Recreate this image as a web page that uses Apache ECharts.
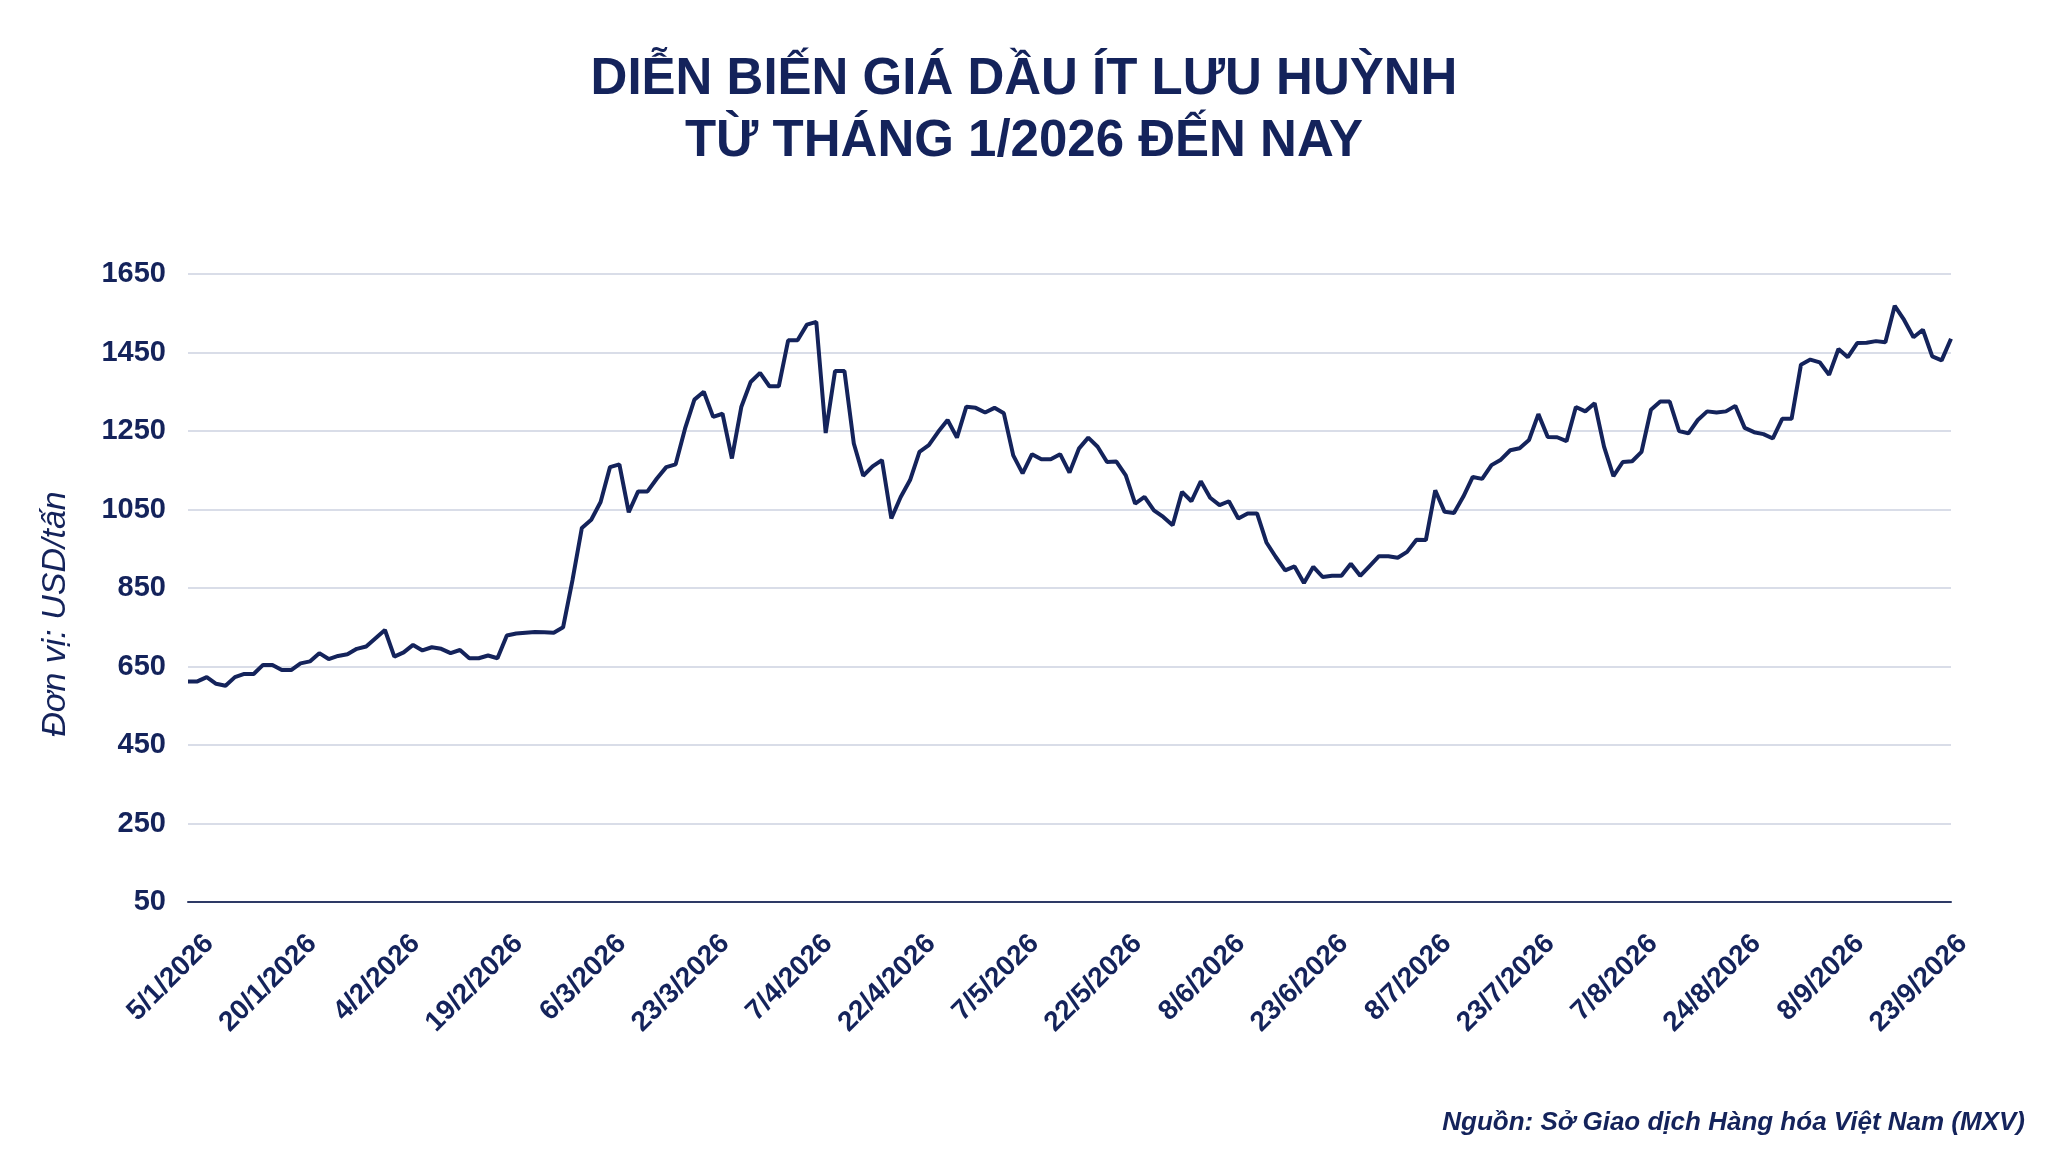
<!DOCTYPE html>
<html>
<head>
<meta charset="utf-8">
<title>Diễn biến giá dầu ít lưu huỳnh</title>
<script src="https://cdn.jsdelivr.net/npm/echarts@6/dist/echarts.min.js"></script>
<style>
  html, body { margin: 0; padding: 0; background: #fff; }
  #main { width: 2048px; height: 1153px; }
</style>
</head>
<body>
<div id="main"></div>
<script>
// ngày giao dịch (thứ 2 - thứ 6) từ 5/1/2026 đến 24/9/2026
var startDay = [2026, 0, 5];
var endDay = [2026, 8, 24];
var dates = [];
var d = new Date(startDay[0], startDay[1], startDay[2]);
var last = new Date(endDay[0], endDay[1], endDay[2]);
while (d <= last) {
  var wd = d.getDay();
  if (wd != 0 && wd != 6) {
    dates.push(d.getDate() + '/' + (d.getMonth() + 1) + '/' + d.getFullYear());
  }
  d.setDate(d.getDate() + 1);
}

// giá dầu ít lưu huỳnh, USD/tấn
var priceJanFeb = [
  612, 612, 623, 606, 601, 623, 631, 631, 654, 654,
  641, 641, 658, 663, 684, 669, 677, 681, 695, 701,
  722, 743, 675, 686, 705, 691, 699, 695, 684, 692,
  671, 671, 678, 671, 729, 734, 736, 738, 737, 736
];
var priceMarApr = [
  750, 870, 1003, 1024, 1069, 1158, 1165, 1043, 1096, 1096,
  1129, 1158, 1165, 1256, 1330, 1350, 1286, 1294, 1180, 1311,
  1375, 1398, 1364, 1364, 1481, 1481, 1521, 1528, 1245, 1403,
  1403, 1218, 1136, 1160, 1176, 1027, 1082, 1125, 1197, 1214,
  1248, 1278, 1233, 1312, 1309
];
var priceMayJun = [
  1297, 1309, 1295, 1188, 1142, 1191, 1178, 1178, 1191, 1144,
  1205, 1233, 1210, 1171, 1172, 1137, 1065, 1082, 1048, 1031,
  1010, 1095, 1071, 1122, 1080, 1061, 1071, 1027, 1040, 1040,
  966, 929, 895, 905, 863, 904, 878, 881, 881, 912,
  881, 906, 931, 931, 927
];
var priceJulSep = [
  942, 973, 972, 1099, 1044, 1041, 1083, 1133, 1128, 1163,
  1177, 1201, 1206, 1227, 1293, 1235, 1234, 1224, 1311, 1300,
  1321, 1210, 1135, 1171, 1173, 1197, 1304, 1325, 1325, 1250,
  1244, 1278, 1300, 1297, 1300, 1314, 1258, 1247, 1242, 1231,
  1281, 1281, 1419, 1432, 1425, 1393, 1459, 1438, 1474, 1475,
  1479, 1476, 1569, 1533, 1489, 1508, 1440, 1430, 1485
];
var prices = priceJanFeb.concat(priceMarApr, priceMayJun, priceJulSep);

var yMin = 50;
var yMax = 1650;
var yStep = 200;

var navy = '#14235B';
var fontFam = 'Arial, "Liberation Sans", sans-serif';

var myChart = echarts.init(document.getElementById('main'));

var option = {
  backgroundColor: '#fff',
  animation: false,
  title: {
    text: 'DIỄN BIẾN GIÁ DẦU ÍT LƯU HUỲNH\nTỪ THÁNG 1/2026 ĐẾN NAY',
    left: 'center',
    top: 44,
    textStyle: {
      color: navy,
      fontFamily: fontFam,
      fontWeight: 'bold',
      fontSize: 51,
      lineHeight: 62
    }
  },
  grid: {
    left: 188,
    right: 97,
    top: 274,
    bottom: 251
  },
  xAxis: {
    type: 'category',
    data: dates,
    boundaryGap: false,
    axisLine: { lineStyle: { color: '#2E3A66', width: 2 } },
    axisTick: { show: false },
    axisLabel: {
      interval: 10,
      rotate: 45,
      margin: 16,
      verticalAlign: 'top',
      lineHeight: 60,
      color: navy,
      fontFamily: fontFam,
      fontWeight: 'bold',
      fontSize: 28
    },
    splitLine: { show: false }
  },
  yAxis: {
    type: 'value',
    min: yMin,
    max: yMax,
    interval: yStep,
    axisLine: { show: false },
    axisTick: { show: false },
    axisLabel: {
      margin: 22,
      color: navy,
      fontFamily: fontFam,
      fontWeight: 'bold',
      fontSize: 29,
      formatter: function (v) { return String(v); }
    },
    splitLine: { lineStyle: { color: '#D9DDE8', width: 2 } }
  },
  graphic: [
    {
      // tên trục tung
      type: 'text',
      x: 56,
      y: 614,
      rotation: Math.PI / 2,
      style: {
        text: 'Đơn vị: USD/tấn',
        fill: navy,
        font: 'italic 34px ' + fontFam,
        textAlign: 'center',
        textVerticalAlign: 'middle'
      }
    },
    {
      type: 'text',
      x: 2025,
      y: 1123,
      style: {
        text: 'Nguồn: Sở Giao dịch Hàng hóa Việt Nam (MXV)',
        fill: navy,
        font: 'italic bold 26px ' + fontFam,
        textAlign: 'right',
        textVerticalAlign: 'middle'
      }
    }
  ],
  series: [{
    type: 'line',
    data: prices,
    showSymbol: false,
    smooth: false,
    lineStyle: { color: navy, width: 4 }
  }]
};

myChart.setOption(option);
</script>
</body>
</html>
